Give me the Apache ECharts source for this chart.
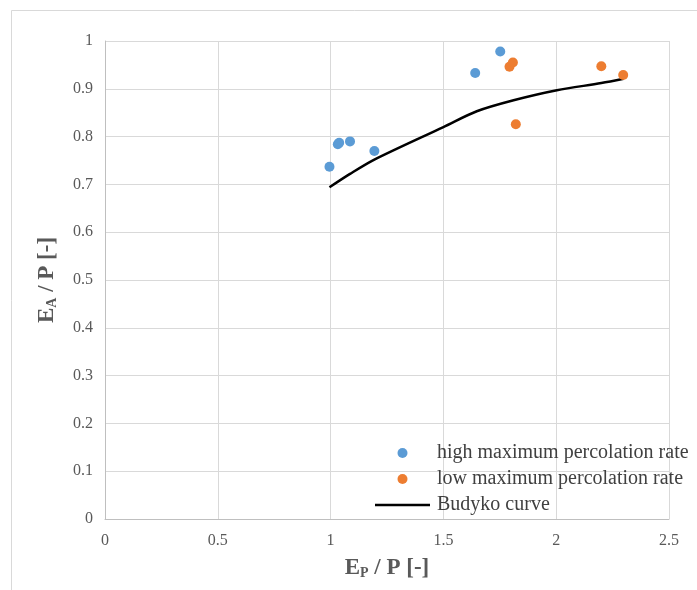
<!DOCTYPE html>
<html>
<head>
<meta charset="utf-8">
<script src="https://cdn.jsdelivr.net/npm/echarts@6/dist/echarts.min.js"></script>
<style>html,body{margin:0;padding:0;background:#fff}#c{width:697px;height:590px}</style>
</head>
<body>
<div id="c"></div>
<script>
var highX = [0.995, 1.032, 1.038, 1.086, 1.194, 1.641, 1.752];
var highY = [0.737, 0.784, 0.787, 0.790, 0.770, 0.933, 0.978];
var lowX = [1.793, 1.808, 1.821, 2.200, 2.297];
var lowY = [0.946, 0.955, 0.826, 0.947, 0.929];
var budykoX = [0.995, 1.086, 1.194, 1.500, 1.648, 1.811, 2.003, 2.200, 2.299];
var budykoY = [0.694, 0.722, 0.752, 0.820, 0.853, 0.876, 0.897, 0.912, 0.921];
var xTicks = ['0', '0.5', '1', '1.5', '2', '2.5'];
var yTicks = ['0', '0.1', '0.2', '0.3', '0.4', '0.5', '0.6', '0.7', '0.8', '0.9', '1'];
var seriesNames = ['high maximum percolation rate', 'low maximum percolation rate', 'Budyko curve'];

function pairs(xs, ys) { return xs.map(function (x, i) { return [x, ys[i]]; }); }

var serif = 'Liberation Serif';
var chart = echarts.init(document.getElementById('c'), null, { renderer: 'canvas' });
chart.setOption({
  animation: false,
  backgroundColor: '#ffffff',
  graphic: [{
    type: 'rect',
    shape: { x: 11.5, y: 10.5, width: 720, height: 620 },
    style: { fill: 'none', stroke: '#d9d9d9', lineWidth: 1 },
    silent: true
  }],
  grid: { left: 105, right: 28, top: 41, bottom: 71, containLabel: false },
  legend: {
    orient: 'vertical',
    left: 375, top: 443,
    padding: 0,
    itemGap: 6,
    itemWidth: 55, itemHeight: 10,
    textStyle: { fontFamily: serif, fontSize: 20, color: '#404040', lineHeight: 20, padding: [0, 0, 0, 2] },
    data: [
      { name: seriesNames[0], icon: 'circle' },
      { name: seriesNames[1], icon: 'circle' },
      { name: seriesNames[2], icon: 'path://M0,0M0,3.7L55,3.7L55,6.3L0,6.3ZM55,10', itemStyle: { color: '#000000' } }
    ]
  },
  xAxis: {
    type: 'value', min: 0, max: 2.5, interval: 0.5,
    axisLine: { show: true, lineStyle: { color: '#bfbfbf', width: 1 } },
    axisTick: { show: false },
    splitLine: { show: true, lineStyle: { color: '#d9d9d9', width: 1 } },
    axisLabel: {
      fontFamily: serif, fontSize: 16, color: '#595959', margin: 14,
      formatter: function (v) { var i = Math.round(v / 0.5); return xTicks[i]; }
    },
    name: '{e|E}{s|P}{e| / P [-]}',
    nameLocation: 'middle', nameGap: 38,
    nameTextStyle: {
      rich: {
        e: { fontFamily: serif, fontSize: 23, fontWeight: 'bold', color: '#595959' },
        s: { fontFamily: serif, fontSize: 14, fontWeight: 'bold', color: '#595959', padding: [9, 0, 0, 0] }
      }
    }
  },
  yAxis: {
    type: 'value', min: 0, max: 1, interval: 0.1,
    axisLine: { show: true, lineStyle: { color: '#bfbfbf', width: 1 } },
    axisTick: { show: false },
    splitLine: { show: true, lineStyle: { color: '#d9d9d9', width: 1 } },
    axisLabel: {
      fontFamily: serif, fontSize: 16, color: '#595959', margin: 12,
      formatter: function (v) { var i = Math.round(v / 0.1); return yTicks[i]; }
    },
    name: '{e|E}{s|A}{e| / P [-]}',
    nameLocation: 'middle', nameGap: 46, nameRotate: 90,
    nameTextStyle: {
      rich: {
        e: { fontFamily: serif, fontSize: 23, fontWeight: 'bold', color: '#595959' },
        s: { fontFamily: serif, fontSize: 14, fontWeight: 'bold', color: '#595959', padding: [9, 0, 0, 0] }
      }
    }
  },
  series: [
    {
      name: seriesNames[2], type: 'line', data: pairs(budykoX, budykoY),
      showSymbol: false, symbol: 'none', smooth: 0.3,
      lineStyle: { color: '#000000', width: 2.5 }, itemStyle: { color: '#000000' }, z: 2
    },
    {
      name: seriesNames[0], type: 'scatter', data: pairs(highX, highY),
      symbol: 'circle', symbolSize: 10, itemStyle: { color: '#5B9BD5', opacity: 1 }, z: 3
    },
    {
      name: seriesNames[1], type: 'scatter', data: pairs(lowX, lowY),
      symbol: 'circle', symbolSize: 10, itemStyle: { color: '#ED7D31', opacity: 1 }, z: 3
    }
  ]
});
</script>
</body>
</html>
